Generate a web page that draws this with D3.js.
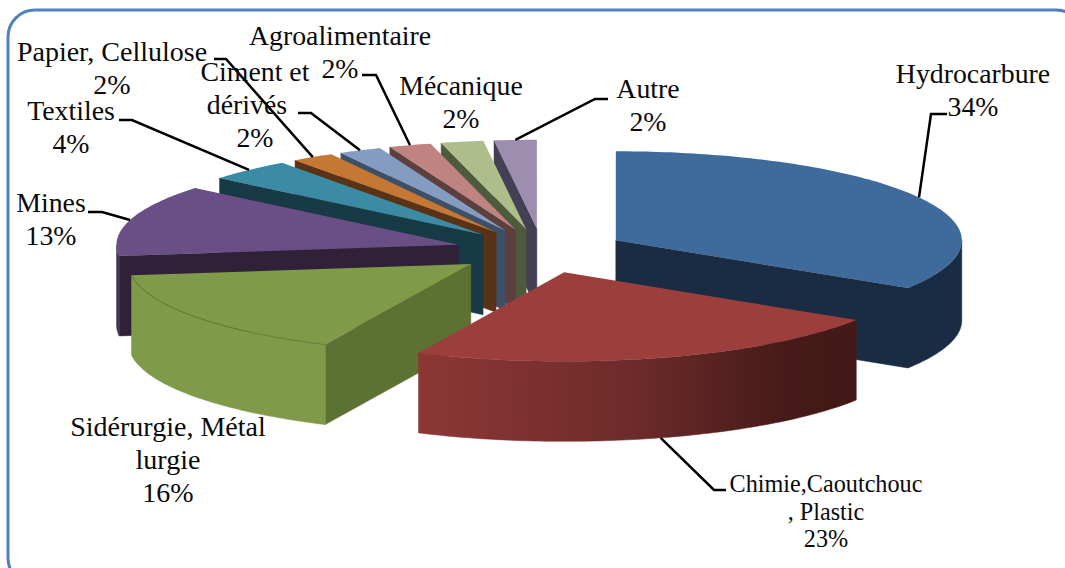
<!DOCTYPE html>
<html><head><meta charset="utf-8">
<script src="https://cdn.jsdelivr.net/npm/d3@7"></script>
<style>html,body{margin:0;padding:0;background:#fff;overflow:hidden}svg{display:block}text{font-family:"Liberation Serif","Times New Roman",serif;fill:#0a0a0a}</style>
</head><body><svg id="c" width="1065" height="568"></svg>
<script>
const categories=["Hydrocarbure","Chimie,Caoutchouc , Plastic","Sidérurgie, Métal lurgie","Mines","Textiles","Papier, Cellulose","Ciment et dérivés","Agroalimentaire","Mécanique","Autre"];
const values=[34,23,16,13,4,2,2,2,2,2];
const topColors=["#3f6a9c","#9b3e3c","#7f9a48","#6a4f86","#3a8ba3","#c57834","#839cbf","#bf8381","#adbe8b","#9d8dae"];
const faceColors=["#1a2c44","#451a18","#5d7133","#2e2138","#183a46","#5a3316","#3d5068","#5c3f3f","#4e5a3c","#443f54"];
const sideColors=["#1a2c44","url(#redSide)","#7f9a48","#46345a","#183a46","#5a3316","#3d5068","#5c3f3f","#4e5a3c","#443f54"];
const labelLines=[["Hydrocarbure","34%"],["Chimie,Caoutchouc",", Plastic","23%"],["Sidérurgie, Métal","lurgie","16%"],["Mines","13%"],["Textiles","4%"],["Papier, Cellulose","2%"],["Ciment et","dérivés","2%"],["Agroalimentaire","2%"],["Mécanique","2%"],["Autre","2%"]];

// layout
const cx=540,cy=251,rxRight=346,rxLeft=342,ry=89,depth=80,explode=0.25,backShift=0.1;
const labelLayout=[
 {x:973,y:83,lh:33,size:27.8,elbow:[[947,114],[931,114]]},
 {x:826,y:492,lh:27.5,size:24.2,elbow:[[726,490],[714,490]],atBase:true},
 {x:168,y:436,lh:33,size:28},
 {x:51,y:212,lh:33,size:27.8,elbow:[[88,212],[102,212]]},
 {x:71,y:120,lh:33,size:27.8,elbow:[[119,120],[132,120]]},
 {x:112,y:61,lh:33,size:28,elbow:[[214,59],[226,59]]},
 {x:255,y:81,lh:33,size:27.8,anchors:[255,247,255],elbow:[[298,113],[311,113]]},
 {x:340,y:45,lh:33,size:27.8,elbow:[[362,75],[376,75]]},
 {x:461,y:95,lh:33,size:27.8},
 {x:648,y:98,lh:33,size:27.8,elbow:[[608,99],[595,99]]}
];
const drawOrder=[9,8,7,6,5,4,3,2,0,1];

const svg=d3.select("#c");
const defs=svg.append("defs");
const grad=defs.append("linearGradient").attr("id","redSide").attr("gradientUnits","userSpaceOnUse").attr("x1",418).attr("x2",856).attr("y1",0).attr("y2",0);
[[0,"#8d3735"],[0.5,"#6c2b29"],[0.85,"#451a18"],[1,"#431a17"]].forEach(s=>grad.append("stop").attr("offset",s[0]).attr("stop-color",s[1]));

svg.append("rect").attr("x",8).attr("y",10).attr("width",1075).attr("height",575).attr("rx",27).attr("ry",27).attr("fill","#fff").attr("stroke","#4f81bd").attr("stroke-width",3);

const arcs=d3.pie().sort(null).value(d=>d)(values);
const TAU=Math.PI*2;
const rxOf=a=>Math.sin(a)<0?rxLeft:rxRight;
const pt=(c,a,dz=0)=>[c[0]+rxOf(a)*Math.sin(a),c[1]-ry*Math.cos(a)+dz];
const line=d3.line();
function arcPts(c,a0,a1,dz=0){
  const n=Math.max(2,Math.ceil((a1-a0)/(TAU/360)));
  return d3.range(n+1).map(i=>pt(c,a0+(a1-a0)*i/n,dz));
}
const slices=arcs.map((s,i)=>{
  const mid=(s.startAngle+s.endAngle)/2;
  const y=cy-explode*ry*Math.cos(mid);
  const shift=Math.sin(mid)<0?backShift*Math.max(0,cy-y):0;
  const c=[cx+explode*rxOf(mid)*Math.sin(mid)+shift,y];
  return {i,a0:s.startAngle,a1:s.endAngle,mid,c};
});
const g=svg.append("g");
drawOrder.forEach(i=>{
  const s=slices[i];
  const bottom=p=>[p[0],p[1]+depth];
  const quad=a=>{const p=pt(s.c,a);return [s.c,p,bottom(p),bottom(s.c)];};
  const fg=g.append("g").attr("class","slice");
  if(Math.sin(s.a0)<-1e-6) fg.append("path").attr("d",line(quad(s.a0))+"Z").attr("fill",faceColors[i]).attr("stroke",faceColors[i]).attr("stroke-width",.5);
  if(Math.sin(s.a1)>1e-6) fg.append("path").attr("d",line(quad(s.a1))+"Z").attr("fill",faceColors[i]).attr("stroke",faceColors[i]).attr("stroke-width",.5);
  const f0=Math.max(s.a0,Math.PI/2),f1=Math.min(s.a1,Math.PI*1.5);
  if(f1>f0){
    const top=arcPts(s.c,f0,f1),bot=arcPts(s.c,f0,f1,depth).reverse();
    fg.append("path").attr("d",line(top.concat(bot))+"Z").attr("fill",sideColors[i]).attr("stroke",sideColors[i]).attr("stroke-width",.5);
  }
  const topPts=[s.c].concat(arcPts(s.c,s.a0,s.a1));
  fg.append("path").attr("d",line(topPts)+"Z").attr("fill",topColors[i]);
  if(i===2) fg.append("path").attr("d",line(arcPts(s.c,s.a0,s.a1))).attr("fill","none").attr("stroke","#5d7133").attr("stroke-width",.8);
});

const lab=svg.append("g");
labelLayout.forEach((l,i)=>{
  const t=lab.append("text").attr("text-anchor","middle").style("font-size",l.size+"px");
  labelLines[i].forEach((txt,j)=>t.append("tspan").attr("x",l.anchors?l.anchors[j]:l.x).attr("y",l.y+j*l.lh).text(txt));
  if(l.elbow){
    const s=slices[i];
    const e=pt(s.c,s.mid,l.atBase?depth:0);
    lab.append("path").attr("d",line(l.elbow.concat([e]))).attr("fill","none").attr("stroke","#000").attr("stroke-width",2.5);
  }
});
</script></body></html>
